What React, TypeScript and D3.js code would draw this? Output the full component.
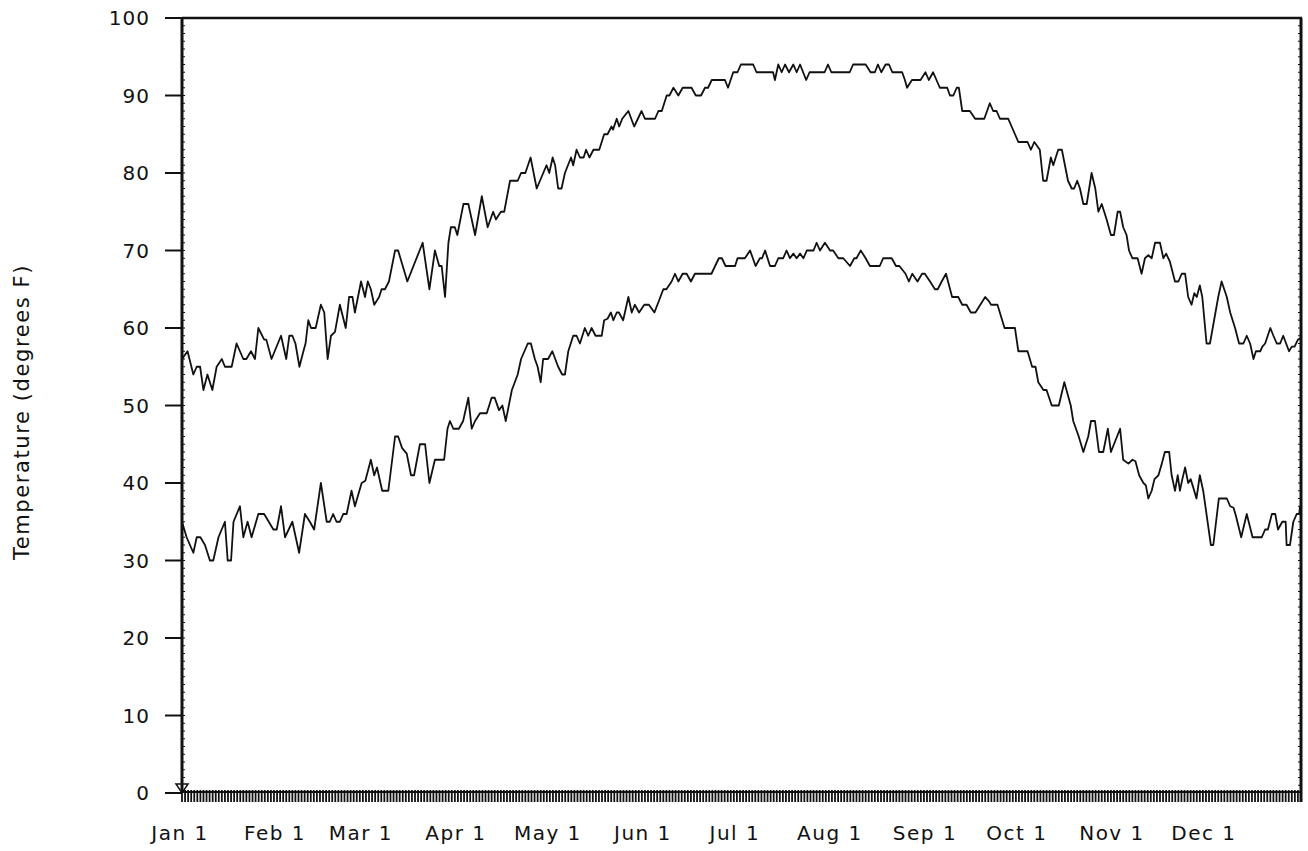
import React from "react";
import * as d3 from "d3";

// [day of year (0 = Jan 1), temperature °F] vertices
const HIGH_TEMPS: [number, number][] = [
  [0,56],[1.8,57],[3.7,54],[4.8,55],[5.9,55],[7,52],[8.3,54],[9.9,52],[11.3,55],[13,56],[14,55],[16.2,55],[17.8,58],[20,56],[21,56],[22.5,57],[23.8,56],[24.9,60],[26.8,58.5],[27.5,58.5],[29.2,56],[32.3,59],[34,56],[35,59],[36,59],[37,58],[38.3,55],[39.6,57],[40.3,58],[41.2,61],[42.1,60],[43.6,60],[45.3,63],[46.4,62],[47.5,56],[48.6,59],[49.9,59.5],[51.5,63],[53.4,60],[54.5,64],[55.6,64],[56.4,62],[58.4,66],[59.7,64],[60.6,66],[61.6,65],[62.7,63],[64.3,64],[65.1,65],[66.2,65],[67.5,66],[69.5,70],[70.5,70],[73.5,66],[78.5,71],[80.7,65],[82.5,70],[83.9,68],[84.7,68],[85.8,64],[86.9,71],[87.7,73],[89,73],[89.8,72],[91.8,76],[93.4,76],[95.6,72],[97.8,77],[99.7,73],[101.5,75],[102.4,74],[104,75],[105.1,75],[107,79],[109.5,79],[110.6,80],[112,80],[113.7,82],[115.7,78],[118.9,81],[119.8,80],[120.9,82],[121.7,81],[122.7,78],[123.8,78],[124.9,80],[126.9,82],[127.6,81],[128.7,83],[129.8,82],[131,82],[131.8,83],[132.9,82],[134.2,83],[136.1,83],[137.7,85],[138.8,85],[140.1,86],[140.6,85.6],[141.8,87],[142.6,86],[143.6,87],[145.6,88],[147.5,86],[149.9,88],[151,87],[154.3,87],[155.4,88],[156.5,88],[158.1,90],[159,90],[160.3,91],[161.9,90],[163.3,91],[166.2,91],[167.6,90],[169.3,90],[170.6,91],[171.6,91],[172.8,92],[177.1,92],[178.1,91],[179.8,93],[181.2,93],[182.3,94],[186.3,94],[187.4,93],[192.8,93],[193.4,92],[194.5,94],[195.6,93],[196.7,94],[198,93],[199.4,94],[200.5,93],[201.6,94],[203.6,92],[204.7,93],[209.6,93],[210.7,94],[211.8,93],[217.8,93],[218.9,94],[223,94],[224.6,93],[226,93],[227,94],[228.1,93],[229.5,94],[230.6,94],[231.7,93],[234.9,93],[235.8,92],[236.5,91],[238.1,92],[240.9,92],[242.5,93],[243.6,92],[245,93],[247.2,91],[249.6,91],[250.5,90],[251.6,90],[252.7,91],[253.4,91],[254.5,88],[257,88],[258.7,87],[261.7,87],[263.5,89],[264.6,88],[265.7,88],[266.8,87],[269.5,87],[272.8,84],[275.8,84],[276.9,83],[278,84],[279.8,83],[280.9,79],[282,79],[283.4,82],[284.2,81],[285.8,83],[287,83],[289,79],[290.2,78],[291,78],[292,79],[292.9,78],[294,76],[295.1,76],[296.7,80],[297.9,78],[298.9,75],[300,76],[301.6,74],[303,72],[304,72],[305.2,75],[306,75],[307,73],[308.1,72],[308.9,70],[310,69],[311.7,69],[313,67],[314.1,69],[315.2,69.4],[316.3,69],[317.4,71],[319,71],[320.1,69],[321,69.6],[322.2,68.6],[323.9,66],[325,66],[326.1,67],[327.2,67],[328.2,64],[329.3,63],[330.2,64.5],[331,64],[332,65.5],[332.8,64],[334.2,58],[335.3,58],[338,64],[339.1,66],[340.8,64],[341.9,62],[343.5,60],[344.8,58],[346.2,58],[347.3,59],[348.4,58],[349.5,56],[350.3,57],[351.7,57],[352.4,57.6],[353.3,58],[355,60],[356,59],[357.1,58],[358.2,58],[359.2,59],[361.1,57],[362,57.6],[362.9,57.6],[364,58.5],[365,58.7]
];

const LOW_TEMPS: [number, number][] = [
  [0,35],[1.5,33],[3.7,31],[4.8,33],[6,33],[7.5,32],[9.1,30],[10.2,30],[11.9,33],[14,35],[14.9,30],[16,30],[16.8,35],[18.9,37],[20,33],[21.4,35],[22.7,33],[24.9,36],[26.8,36],[29.8,34],[30.9,34],[32.3,37],[33.6,33],[36,35],[38.2,31],[40.1,36],[41.7,35],[43.1,34],[45.3,40],[47.2,35],[48.2,35],[49.3,36],[50.4,35],[51.5,35],[52.6,36],[53.7,36],[55.3,39],[56.4,37],[58.6,40],[59.8,40.3],[61.6,43],[62.7,41],[63.6,42],[65.3,39],[67.3,39],[69.5,46],[70.5,46],[71.8,44.5],[73.3,43.8],[74.7,41],[75.7,41],[77.6,45],[79.3,45],[80.7,40],[82.5,43],[85.5,43],[86.6,47],[87.4,48],[88.5,47],[90.3,47],[91.7,48],[93.4,51],[94.5,47],[95.6,48],[97.2,49],[99.4,49],[101,51],[102,51],[103.4,49.4],[104.5,50],[105.6,48],[107.6,52],[109.5,54],[110.6,56],[112.8,58],[113.8,58],[115.1,56],[116,55],[117,53],[117.8,56],[119.4,56],[120.8,57],[122.7,55],[124,54],[124.9,54],[126,57],[127.6,59],[128.7,59],[129.8,58],[131.4,60],[132.5,59],[133.6,60],[134.9,59],[136.9,59],[137.7,61],[138.8,61.2],[139.9,62],[140.7,61],[141.8,62],[142.5,62],[143.9,61],[145.6,64],[146.7,62],[147.7,63],[149.1,62],[150.8,63],[152.3,63],[154.1,62],[157,65],[158,65],[159.7,66],[160.8,67],[161.9,66],[163.3,67],[164.6,67],[166,66],[167.3,67],[172.7,67],[175.1,69],[176.1,69],[177.3,68],[180.4,68],[181.2,69],[183.6,69],[185.3,70],[187.1,68],[188.5,69],[189.2,69],[190.2,70],[191.8,68],[193.4,68],[194.5,69],[196.1,69],[197.2,70],[198.3,69],[199.4,69.6],[200.5,69],[201.6,69.6],[202.7,69],[203.8,70],[206,70],[207,71],[208.1,70],[209.7,71],[211.4,70],[212.4,70],[214.1,69],[215.7,69],[217.9,68],[219.3,69],[220,69],[221.4,70],[223,69],[224.4,68],[227.6,68],[228.7,69],[231.5,69],[232.9,68],[234,68],[236,67],[237.1,66],[238.2,67],[239.9,66],[241.4,67],[242.3,67],[244,66],[245.6,65],[246.5,65],[247.8,66],[249.2,67],[250,65.8],[251.2,64],[253.2,64],[254.5,63],[255.9,63],[257.3,62],[258.8,62],[262,64],[263.3,63.4],[263.9,63],[266,63],[268.3,60],[271.7,60],[272.8,57],[275.8,57],[277.3,55],[278.4,55],[279.3,53],[281,52],[282,52],[283.7,50],[286,50],[287.8,53],[288.5,52],[289.9,50],[290.7,48],[292.5,46],[294,44],[295.6,46],[296.5,48],[297.8,48],[299.1,44],[300.5,44],[302,47],[303,44],[306,47],[307,43],[308.7,42.5],[310,43],[311,42.8],[312.2,41],[313.6,40],[314.4,39.7],[315.2,38],[316.3,39],[317.2,40.5],[318.5,41],[319.6,42.5],[320.6,44],[322,44],[322.8,41],[323.9,39],[324.8,41],[325.5,39],[326.3,40.5],[327.2,42],[328.2,40],[329,40.5],[329.8,39.5],[330.9,38],[332,41],[333.1,39],[335.6,32],[336.4,32],[338.2,38],[340.8,38],[341.9,37],[343,36.8],[343.8,35.7],[345.5,33],[347.3,36],[349.2,33],[352.2,33],[353.3,34],[354.2,34],[355.5,36],[356.6,36],[357.5,34],[358.9,35],[360,35],[360.3,32],[361.4,32],[362.5,35],[363.6,36],[364.4,36],[364.7,37]
];

const MONTH_LABELS = ["Jan 1","Feb 1","Mar 1","Apr 1","May 1","Jun 1","Jul 1","Aug 1","Sep 1","Oct 1","Nov 1","Dec 1"];
const MONTH_DAYS = [0,31,59,90,120,151,181,212,243,273,304,334];
const Y_TICKS = [0,10,20,30,40,50,60,70,80,90,100];
const Y_TITLE = "Temperature (degrees F)";

const FONT = "'DejaVu Sans', sans-serif";

export default function App() {
  const left = 182, right = 1301, top = 18, bottom = 793;
  const x = d3.scaleLinear().domain([0, 365]).range([left, right]);
  const y = d3.scaleLinear().domain([0, 100]).range([bottom, top]);
  const line = d3.line<[number, number]>().x(d => x(d[0])).y(d => y(d[1])).curve(d3.curveLinear);

  const dayTicks = d3.range(0, 366);
  const minor = d3.range(1, 100);

  return (
    <svg width={1308} height={851} style={{ position: "absolute", left: 0, top: 0, background: "#fff" }}
      fontFamily={FONT}>
      <rect x={0} y={0} width={1308} height={851} fill="#fff" />
      {/* daily hatch band */}
      <g stroke="#111" strokeWidth={1.8}>
        {dayTicks.map(d => (
          <line key={d} x1={x(d)} x2={x(d)} y1={790} y2={802} />
        ))}
      </g>
      <line x1={left} x2={right} y1={bottom - 1} y2={bottom - 1} stroke="#111" strokeWidth={2} />
      {/* frame */}
      <line x1={left} x2={right + 1} y1={top} y2={top} stroke="#111" strokeWidth={2.5} />
      <line x1={right} x2={right} y1={top} y2={bottom + 9} stroke="#111" strokeWidth={3} />
      {/* minor ticks */}
      <g stroke="#111" strokeWidth={1}>
        {minor.map(v => (
          <g key={v}>
            <line x1={left} x2={left + 3} y1={y(v)} y2={y(v)} />
            <line x1={right - 3} x2={right} y1={y(v)} y2={y(v)} />
          </g>
        ))}
      </g>
      {/* y major ticks and labels */}
      {Y_TICKS.map(v => (
        <g key={v}>
          <line x1={165} x2={left} y1={y(v)} y2={y(v)} stroke="#111" strokeWidth={2} />
          <text x={150} y={y(v) + 7} textAnchor="end" fontSize={20} letterSpacing={1} fill="#111">{v}</text>
        </g>
      ))}
      {/* origin triangle */}
      <polygon points={`${left - 6},${bottom - 9} ${left + 6},${bottom - 9} ${left},${bottom}`} fill="#fff" stroke="#111" strokeWidth={1.5} />
      <line x1={left} x2={left} y1={top - 1} y2={bottom} stroke="#111" strokeWidth={3} />
      {/* x labels */}
      {MONTH_LABELS.map((m, i) => (
        <text key={m} x={x(MONTH_DAYS[i]) - 2} y={840} textAnchor="middle" fontSize={20} letterSpacing={1.5} fill="#111">{m}</text>
      ))}
      {/* y title */}
      <text transform={`translate(29,412) rotate(-90)`} textAnchor="middle" fontSize={21} letterSpacing={1.6} fill="#111">{Y_TITLE}</text>
      {/* data */}
      <path d={line(HIGH_TEMPS) || ""} fill="none" stroke="#111" strokeWidth={1.8} strokeLinejoin="round" />
      <path d={line(LOW_TEMPS) || ""} fill="none" stroke="#111" strokeWidth={1.8} strokeLinejoin="round" />
    </svg>
  );
}
